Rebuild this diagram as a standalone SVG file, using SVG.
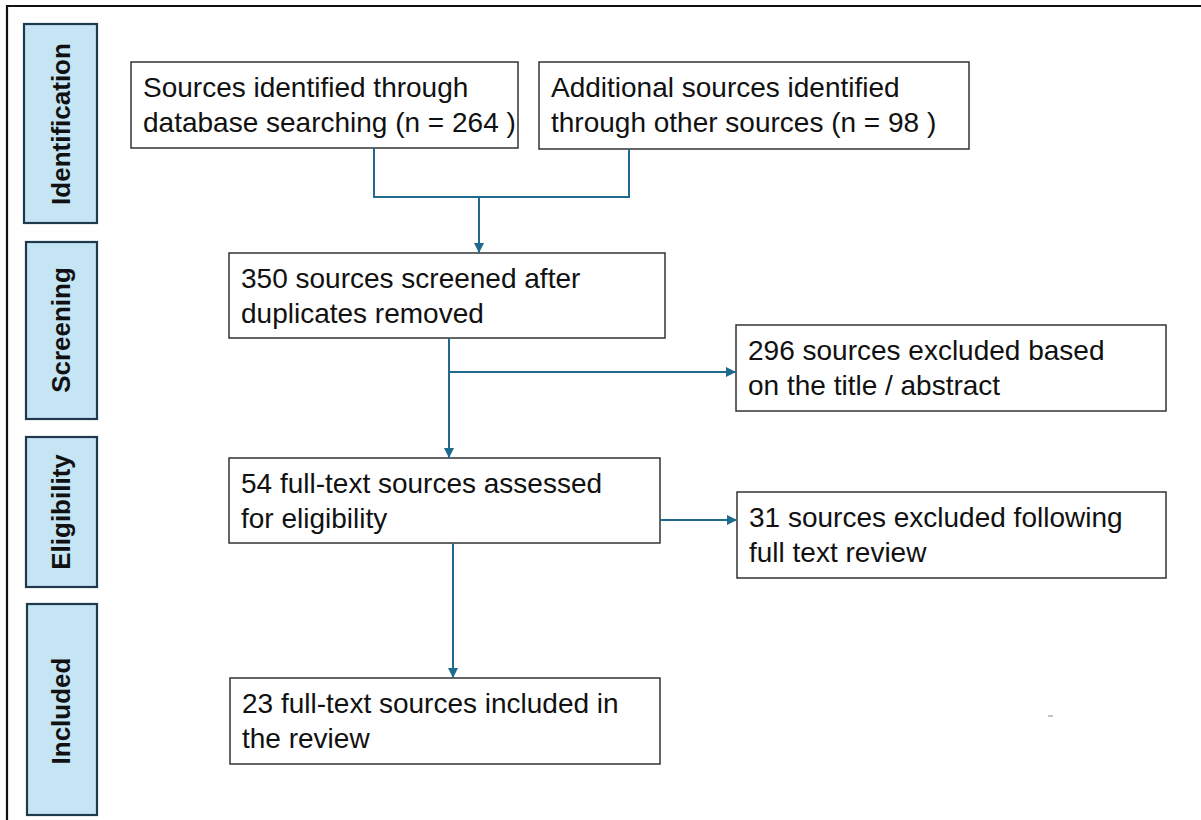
<svg xmlns="http://www.w3.org/2000/svg" width="1201" height="820" viewBox="0 0 1201 820">
<defs>
<marker id="arr" viewBox="0 0 10 10" refX="10" refY="5" markerWidth="10" markerHeight="10" markerUnits="userSpaceOnUse" orient="auto">
<path d="M0,0 L10,5 L0,10 z" fill="#1f6a8f"/>
</marker>
</defs>
<style>
.box{fill:#ffffff;stroke:#333333;stroke-width:1.5}
.stage{fill:#c5e4f4;stroke:#1e3a4c;stroke-width:2.2}
.t{font-family:"Liberation Sans",Arial,sans-serif;font-size:28px;fill:#111111}
.st{font-family:"Liberation Sans",Arial,sans-serif;font-size:26px;font-weight:bold;fill:#111111}
.c{fill:none;stroke:#1f6a8f;stroke-width:2}
</style>
<rect x="0" y="0" width="1201" height="820" fill="#ffffff"/>
<path d="M7,820 L7,6 L1201,6" fill="none" stroke="#111111" stroke-width="2.2"/>

<g id="stage-identification">
<rect class="stage" x="24" y="24" width="73" height="199"/>
<text class="st" transform="translate(70,124) rotate(-90)" text-anchor="middle">Identification</text>
</g>
<g id="stage-screening">
<rect class="stage" x="26" y="242" width="71" height="177"/>
<text class="st" transform="translate(70,330) rotate(-90)" text-anchor="middle">Screening</text>
</g>
<g id="stage-eligibility">
<rect class="stage" x="26" y="437" width="71" height="150"/>
<text class="st" transform="translate(70,512) rotate(-90)" text-anchor="middle">Eligibility</text>
</g>
<g id="stage-included">
<rect class="stage" x="27" y="604" width="70" height="211"/>
<text class="st" transform="translate(70,711) rotate(-90)" text-anchor="middle">Included</text>
</g>

<g id="n1">
<rect class="box" x="131" y="62" width="387" height="86"/>
<text class="t" x="143" y="97">Sources identified through</text>
<text class="t" x="143" y="132">database searching (n = 264 )</text>
</g>
<g id="n2">
<rect class="box" x="539" y="62" width="430" height="87"/>
<text class="t" x="551" y="97">Additional sources identified</text>
<text class="t" x="551" y="132">through other sources (n = 98 )</text>
</g>
<g id="n3">
<rect class="box" x="229" y="253" width="436" height="85"/>
<text class="t" x="241" y="288">350 sources screened after</text>
<text class="t" x="241" y="323">duplicates removed</text>
</g>
<g id="n4">
<rect class="box" x="736" y="325" width="430" height="86"/>
<text class="t" x="748" y="360">296 sources excluded based</text>
<text class="t" x="748" y="395">on the title / abstract</text>
</g>
<g id="n5">
<rect class="box" x="229" y="458" width="431" height="85"/>
<text class="t" x="241" y="493">54 full-text sources assessed</text>
<text class="t" x="241" y="528">for eligibility</text>
</g>
<g id="n6">
<rect class="box" x="737" y="492" width="429" height="86"/>
<text class="t" x="749" y="527">31 sources excluded following</text>
<text class="t" x="749" y="562">full text review</text>
</g>
<g id="n7">
<rect class="box" x="230" y="678" width="430" height="86"/>
<text class="t" x="242" y="713">23 full-text sources included in</text>
<text class="t" x="242" y="748">the review</text>
</g>

<g id="connectors">
<path class="c" d="M374,148 L374,197 L629,197 L629,149"/>
<path class="c" d="M479,197 L479,253" marker-end="url(#arr)"/>
<path class="c" d="M449,338 L449,458" marker-end="url(#arr)"/>
<path class="c" d="M449,372 L736,372" marker-end="url(#arr)"/>
<path class="c" d="M660,520 L737,520" marker-end="url(#arr)"/>
<path class="c" d="M453,543 L453,678" marker-end="url(#arr)"/>
</g>
<line x1="1048" y1="716" x2="1053" y2="716" stroke="#888888" stroke-width="1"/>
</svg>
